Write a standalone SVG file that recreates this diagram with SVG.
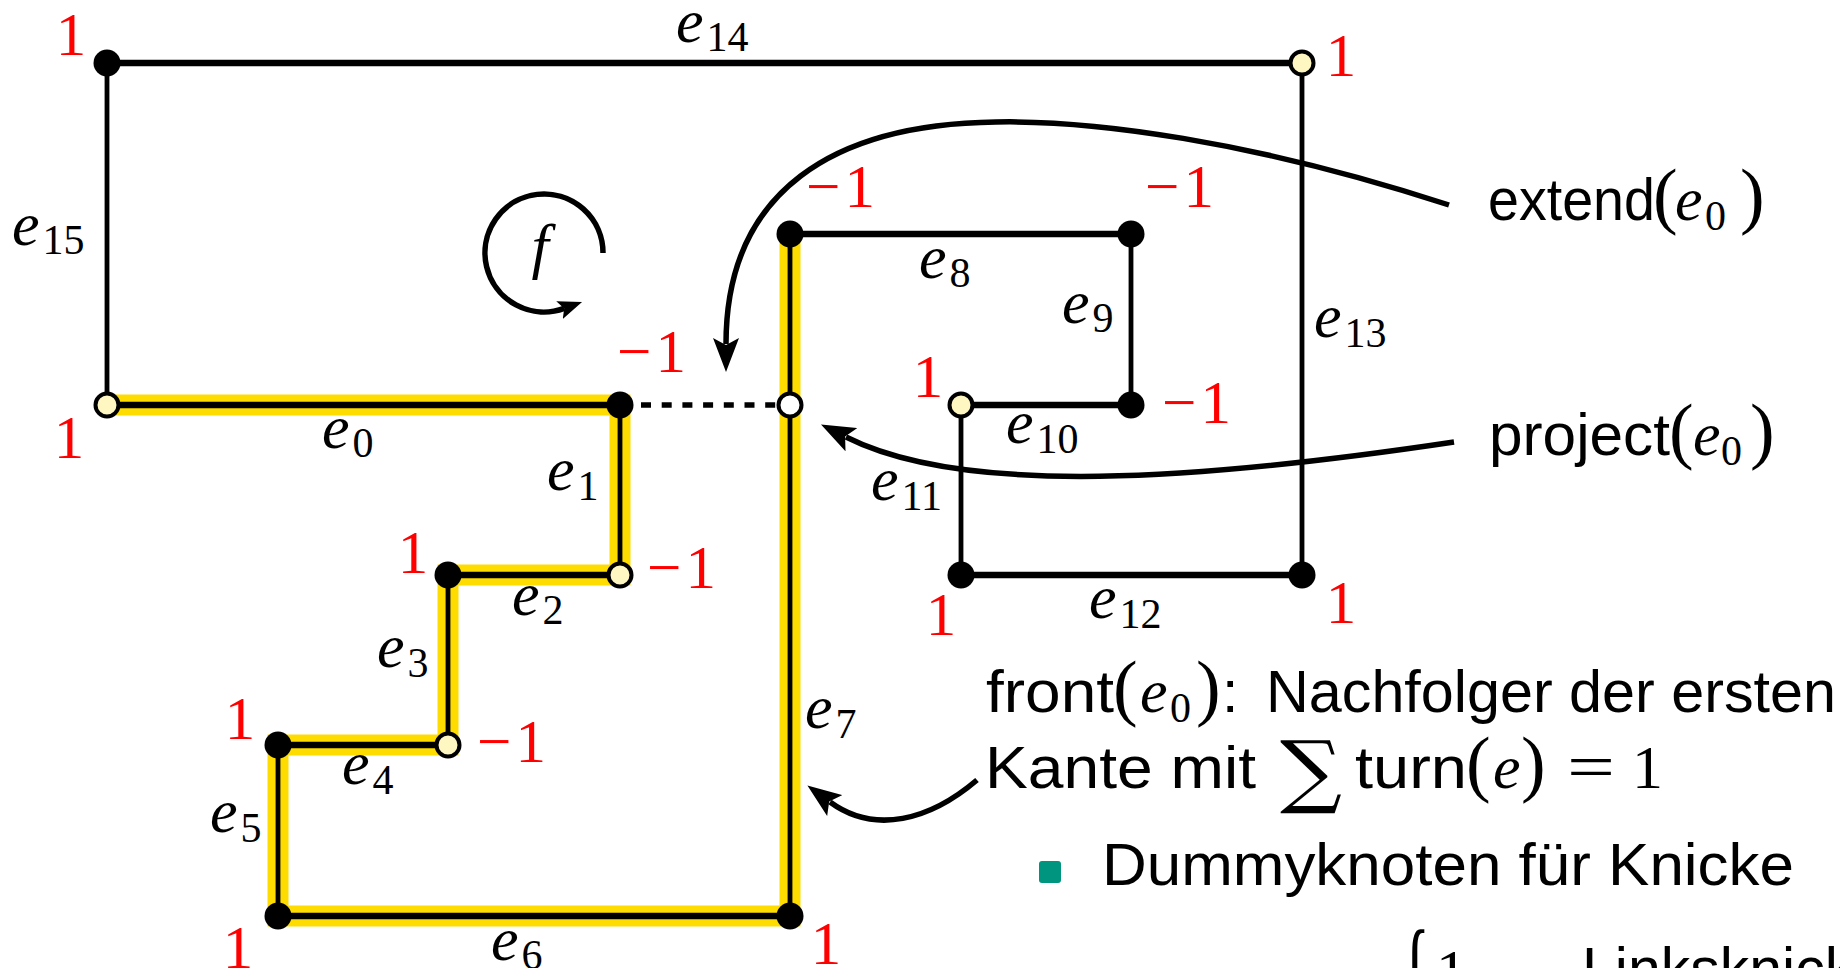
<svg xmlns="http://www.w3.org/2000/svg" width="1840" height="968" viewBox="0 0 1840 968">
<defs>
<marker id="ah" markerUnits="userSpaceOnUse" markerWidth="34" markerHeight="26" viewBox="0 0 34 26" refX="6" refY="13" orient="auto"><path d="M0,0 L34,13 L0,26 L7,13 z" fill="#000"/></marker>
<marker id="ahs" markerUnits="userSpaceOnUse" markerWidth="24" markerHeight="19" viewBox="0 0 24 19" refX="5" refY="9.5" orient="auto"><path d="M0,0 L24,9.5 L0,19 L5,9.5 z" fill="#000"/></marker>
</defs>
<style>
.hl{fill:none;stroke:#FFDC00;stroke-width:21;stroke-linejoin:miter;stroke-linecap:butt}
.eh{stroke:#000;stroke-width:6.5}
.ev{stroke:#000;stroke-width:4.8}
.dot{stroke:#000;stroke-width:5.7;stroke-dasharray:10 10.7}
.n{fill:#000}
.p{fill:#FFF7C2;stroke:#000;stroke-width:4}
.w{fill:#fff;stroke:#000;stroke-width:4}
.r{font-family:"Liberation Serif",serif;font-size:61px;fill:#f00}
.rc{text-anchor:middle}
.m{font-family:"Liberation Serif",serif;font-style:italic;font-size:62px;fill:#000}
.s{font-size:42px;font-style:normal}
.t{font-family:"Liberation Sans",sans-serif;font-size:59px;fill:#000}
.pn{font-family:"Liberation Serif",serif;font-size:74px;font-style:normal}
.mi{font-family:"Liberation Serif",serif;font-style:italic;font-size:62px}
.sb{font-family:"Liberation Serif",serif;font-size:42px;font-style:normal}
.c{fill:none;stroke:#000;stroke-width:5.5}
</style>

<g id="connectors">
  <polyline class="hl" points="107,405 620,405 620,575 448,575 448,745 278,745 278,916 790,916 790,234"/>
  <line id="e14" class="eh" x1="107" y1="63" x2="1302" y2="63"/>
  <line id="e15" class="ev" x1="107" y1="63" x2="107" y2="405"/>
  <line id="e0" class="eh" x1="107" y1="405" x2="620" y2="405"/>
  <line id="e1" class="ev" x1="620" y1="405" x2="620" y2="575"/>
  <line id="e2" class="eh" x1="620" y1="575" x2="448" y2="575"/>
  <line id="e3" class="ev" x1="448" y1="575" x2="448" y2="745"/>
  <line id="e4" class="eh" x1="448" y1="745" x2="278" y2="745"/>
  <line id="e5" class="ev" x1="278" y1="745" x2="278" y2="916"/>
  <line id="e6" class="eh" x1="278" y1="916" x2="790" y2="916"/>
  <line id="e7" class="ev" x1="790" y1="916" x2="790" y2="234"/>
  <line id="e8" class="eh" x1="790" y1="234" x2="1131" y2="234"/>
  <line id="e9" class="ev" x1="1131" y1="234" x2="1131" y2="405"/>
  <line id="e10" class="eh" x1="1131" y1="405" x2="961" y2="405"/>
  <line id="e11" class="ev" x1="961" y1="405" x2="961" y2="575"/>
  <line id="e12" class="eh" x1="961" y1="575" x2="1302" y2="575"/>
  <line id="e13" class="ev" x1="1302" y1="575" x2="1302" y2="63"/>
  <line id="ext" class="dot" x1="641" y1="405" x2="777" y2="405"/>
</g>

<g id="nodes">
  <g id="v0"><circle class="n" cx="107" cy="63" r="13.5"/></g>
  <g id="v1"><circle class="p" cx="1302" cy="63" r="11.5"/></g>
  <g id="v2"><circle class="p" cx="107" cy="405" r="11.5"/></g>
  <g id="v3"><circle class="n" cx="620" cy="405" r="13.5"/></g>
  <g id="v4"><circle class="w" cx="790" cy="405" r="11.5"/></g>
  <g id="v5"><circle class="p" cx="620" cy="575" r="11.5"/></g>
  <g id="v6"><circle class="n" cx="448" cy="575" r="13.5"/></g>
  <g id="v7"><circle class="p" cx="448" cy="745" r="11.5"/></g>
  <g id="v8"><circle class="n" cx="278" cy="745" r="13.5"/></g>
  <g id="v9"><circle class="n" cx="278" cy="916" r="13.5"/></g>
  <g id="v10"><circle class="n" cx="790" cy="916" r="13.5"/></g>
  <g id="v11"><circle class="n" cx="790" cy="234" r="13.5"/></g>
  <g id="v12"><circle class="n" cx="1131" cy="234" r="13.5"/></g>
  <g id="v13"><circle class="n" cx="1131" cy="405" r="13.5"/></g>
  <g id="v14"><circle class="p" cx="961" cy="405" r="11.5"/></g>
  <g id="v15"><circle class="n" cx="961" cy="575" r="13.5"/></g>
  <g id="v16"><circle class="n" cx="1302" cy="575" r="13.5"/></g>
</g>

<g id="turns">
  <text class="r rc" x="71" y="55">1</text>
  <text class="r rc" x="1341" y="76">1</text>
  <text class="r rc" x="69" y="458">1</text>
  <text class="r" x="617" y="372">−<tspan dx="4">1</tspan></text>
  <text class="r" x="806" y="207">−<tspan dx="4">1</tspan></text>
  <text class="r" x="1145" y="207">−<tspan dx="4">1</tspan></text>
  <text class="r rc" x="928" y="397">1</text>
  <text class="r" x="1162" y="423">−<tspan dx="4">1</tspan></text>
  <text class="r rc" x="413" y="573">1</text>
  <text class="r" x="647" y="588">−<tspan dx="4">1</tspan></text>
  <text class="r rc" x="240" y="739">1</text>
  <text class="r" x="477" y="762">−<tspan dx="4">1</tspan></text>
  <text class="r rc" x="238" y="968">1</text>
  <text class="r rc" x="826" y="964">1</text>
  <text class="r rc" x="941" y="635">1</text>
  <text class="r rc" x="1341" y="623">1</text>
</g>

<g id="edge-labels">
  <text class="m" x="676" y="42">e<tspan class="s" dx="3" dy="9">14</tspan></text>
  <text class="m" x="12" y="245">e<tspan class="s" dx="3" dy="9">15</tspan></text>
  <text class="m" x="322" y="448">e<tspan class="s" dx="3" dy="9">0</tspan></text>
  <text class="m" x="547" y="490">e<tspan class="s" dx="3" dy="10">1</tspan></text>
  <text class="m" x="512" y="615">e<tspan class="s" dx="3" dy="9">2</tspan></text>
  <text class="m" x="377" y="667">e<tspan class="s" dx="3" dy="10">3</tspan></text>
  <text class="m" x="342" y="784">e<tspan class="s" dx="3" dy="10">4</tspan></text>
  <text class="m" x="210" y="832">e<tspan class="s" dx="3" dy="10">5</tspan></text>
  <text class="m" x="491" y="960">e<tspan class="s" dx="3" dy="9">6</tspan></text>
  <text class="m" x="805" y="728">e<tspan class="s" dx="3" dy="10">7</tspan></text>
  <text class="m" x="919" y="278">e<tspan class="s" dx="3" dy="9">8</tspan></text>
  <text class="m" x="1062" y="323">e<tspan class="s" dx="3" dy="9">9</tspan></text>
  <text class="m" x="1006" y="443">e<tspan class="s" dx="3" dy="10">10</tspan></text>
  <text class="m" x="871" y="500">e<tspan class="s" dx="3" dy="10">11</tspan></text>
  <text class="m" x="1089" y="618">e<tspan class="s" dx="3" dy="10">12</tspan></text>
  <text class="m" x="1314" y="337">e<tspan class="s" dx="3" dy="10">13</tspan></text>
</g>

<g id="face">
  <path class="c" d="M603,253 A59,59 0 1 0 564.2,308.4" marker-end="url(#ahs)"/>
  <text class="m" x="540" y="267" text-anchor="middle">f</text>
</g>

<g id="callouts">
  <path class="c" d="M1449,205 C1250,140 1090,120 996,122 C835,124 726,190 726,344" marker-end="url(#ah)"/>
  <path class="c" d="M1454,442 C1200,480 965,497 846,437" marker-end="url(#ah)"/>
  <path class="c" d="M977,780 C930,820 875,835 830,802" marker-end="url(#ah)"/>
</g>

<g id="texts">
  <text class="t" y="220"><tspan x="1488" textLength="167" lengthAdjust="spacingAndGlyphs">extend</tspan><tspan class="pn" x="1653">(</tspan><tspan class="mi" x="1675">e</tspan><tspan class="sb" x="1705" dy="10">0</tspan><tspan class="pn" x="1740" dy="-10">)</tspan></text>
  <text class="t" y="455"><tspan x="1489" textLength="181" lengthAdjust="spacingAndGlyphs">project</tspan><tspan class="pn" x="1669">(</tspan><tspan class="mi" x="1693">e</tspan><tspan class="sb" x="1721" dy="10">0</tspan><tspan class="pn" x="1750" dy="-10">)</tspan></text>
  <text class="t" y="712"><tspan x="986" textLength="128" lengthAdjust="spacingAndGlyphs">front</tspan><tspan class="pn" x="1113">(</tspan><tspan class="mi" x="1140">e</tspan><tspan class="sb" x="1170" dy="10">0</tspan><tspan class="pn" x="1196" dy="-10">)</tspan><tspan x="1222">:</tspan><tspan x="1266" textLength="570" lengthAdjust="spacingAndGlyphs">Nachfolger der ersten</tspan></text>
  <text class="t" y="788"><tspan x="985" textLength="271" lengthAdjust="spacingAndGlyphs">Kante mit</tspan><tspan x="1280" dy="10" style="font-family:'DejaVu Serif',serif;font-size:80px" textLength="62" lengthAdjust="spacingAndGlyphs">∑</tspan><tspan x="1355" dy="-10" textLength="112" lengthAdjust="spacingAndGlyphs">turn</tspan><tspan class="pn" x="1466">(</tspan><tspan class="mi" x="1493">e</tspan><tspan class="pn" x="1521">)</tspan><tspan class="pn" x="1567" style="font-size:64px" textLength="48" lengthAdjust="spacingAndGlyphs">=</tspan><tspan class="pn" x="1632" style="font-size:62px">1</tspan></text>
  <rect x="1039" y="861" width="22" height="22" rx="3" fill="#00957F"/>
  <text class="t" x="1102" y="885" textLength="692" lengthAdjust="spacingAndGlyphs">Dummyknoten für Knicke</text>
  <text class="pn" x="1400" y="1041" style="font-size:160px" textLength="30" lengthAdjust="spacingAndGlyphs">{</text>
  <text class="pn" x="1436" y="992" style="font-size:62px">1</text>
  <text class="t" x="1582" y="989">Linksknick</text>
</g>
</svg>
